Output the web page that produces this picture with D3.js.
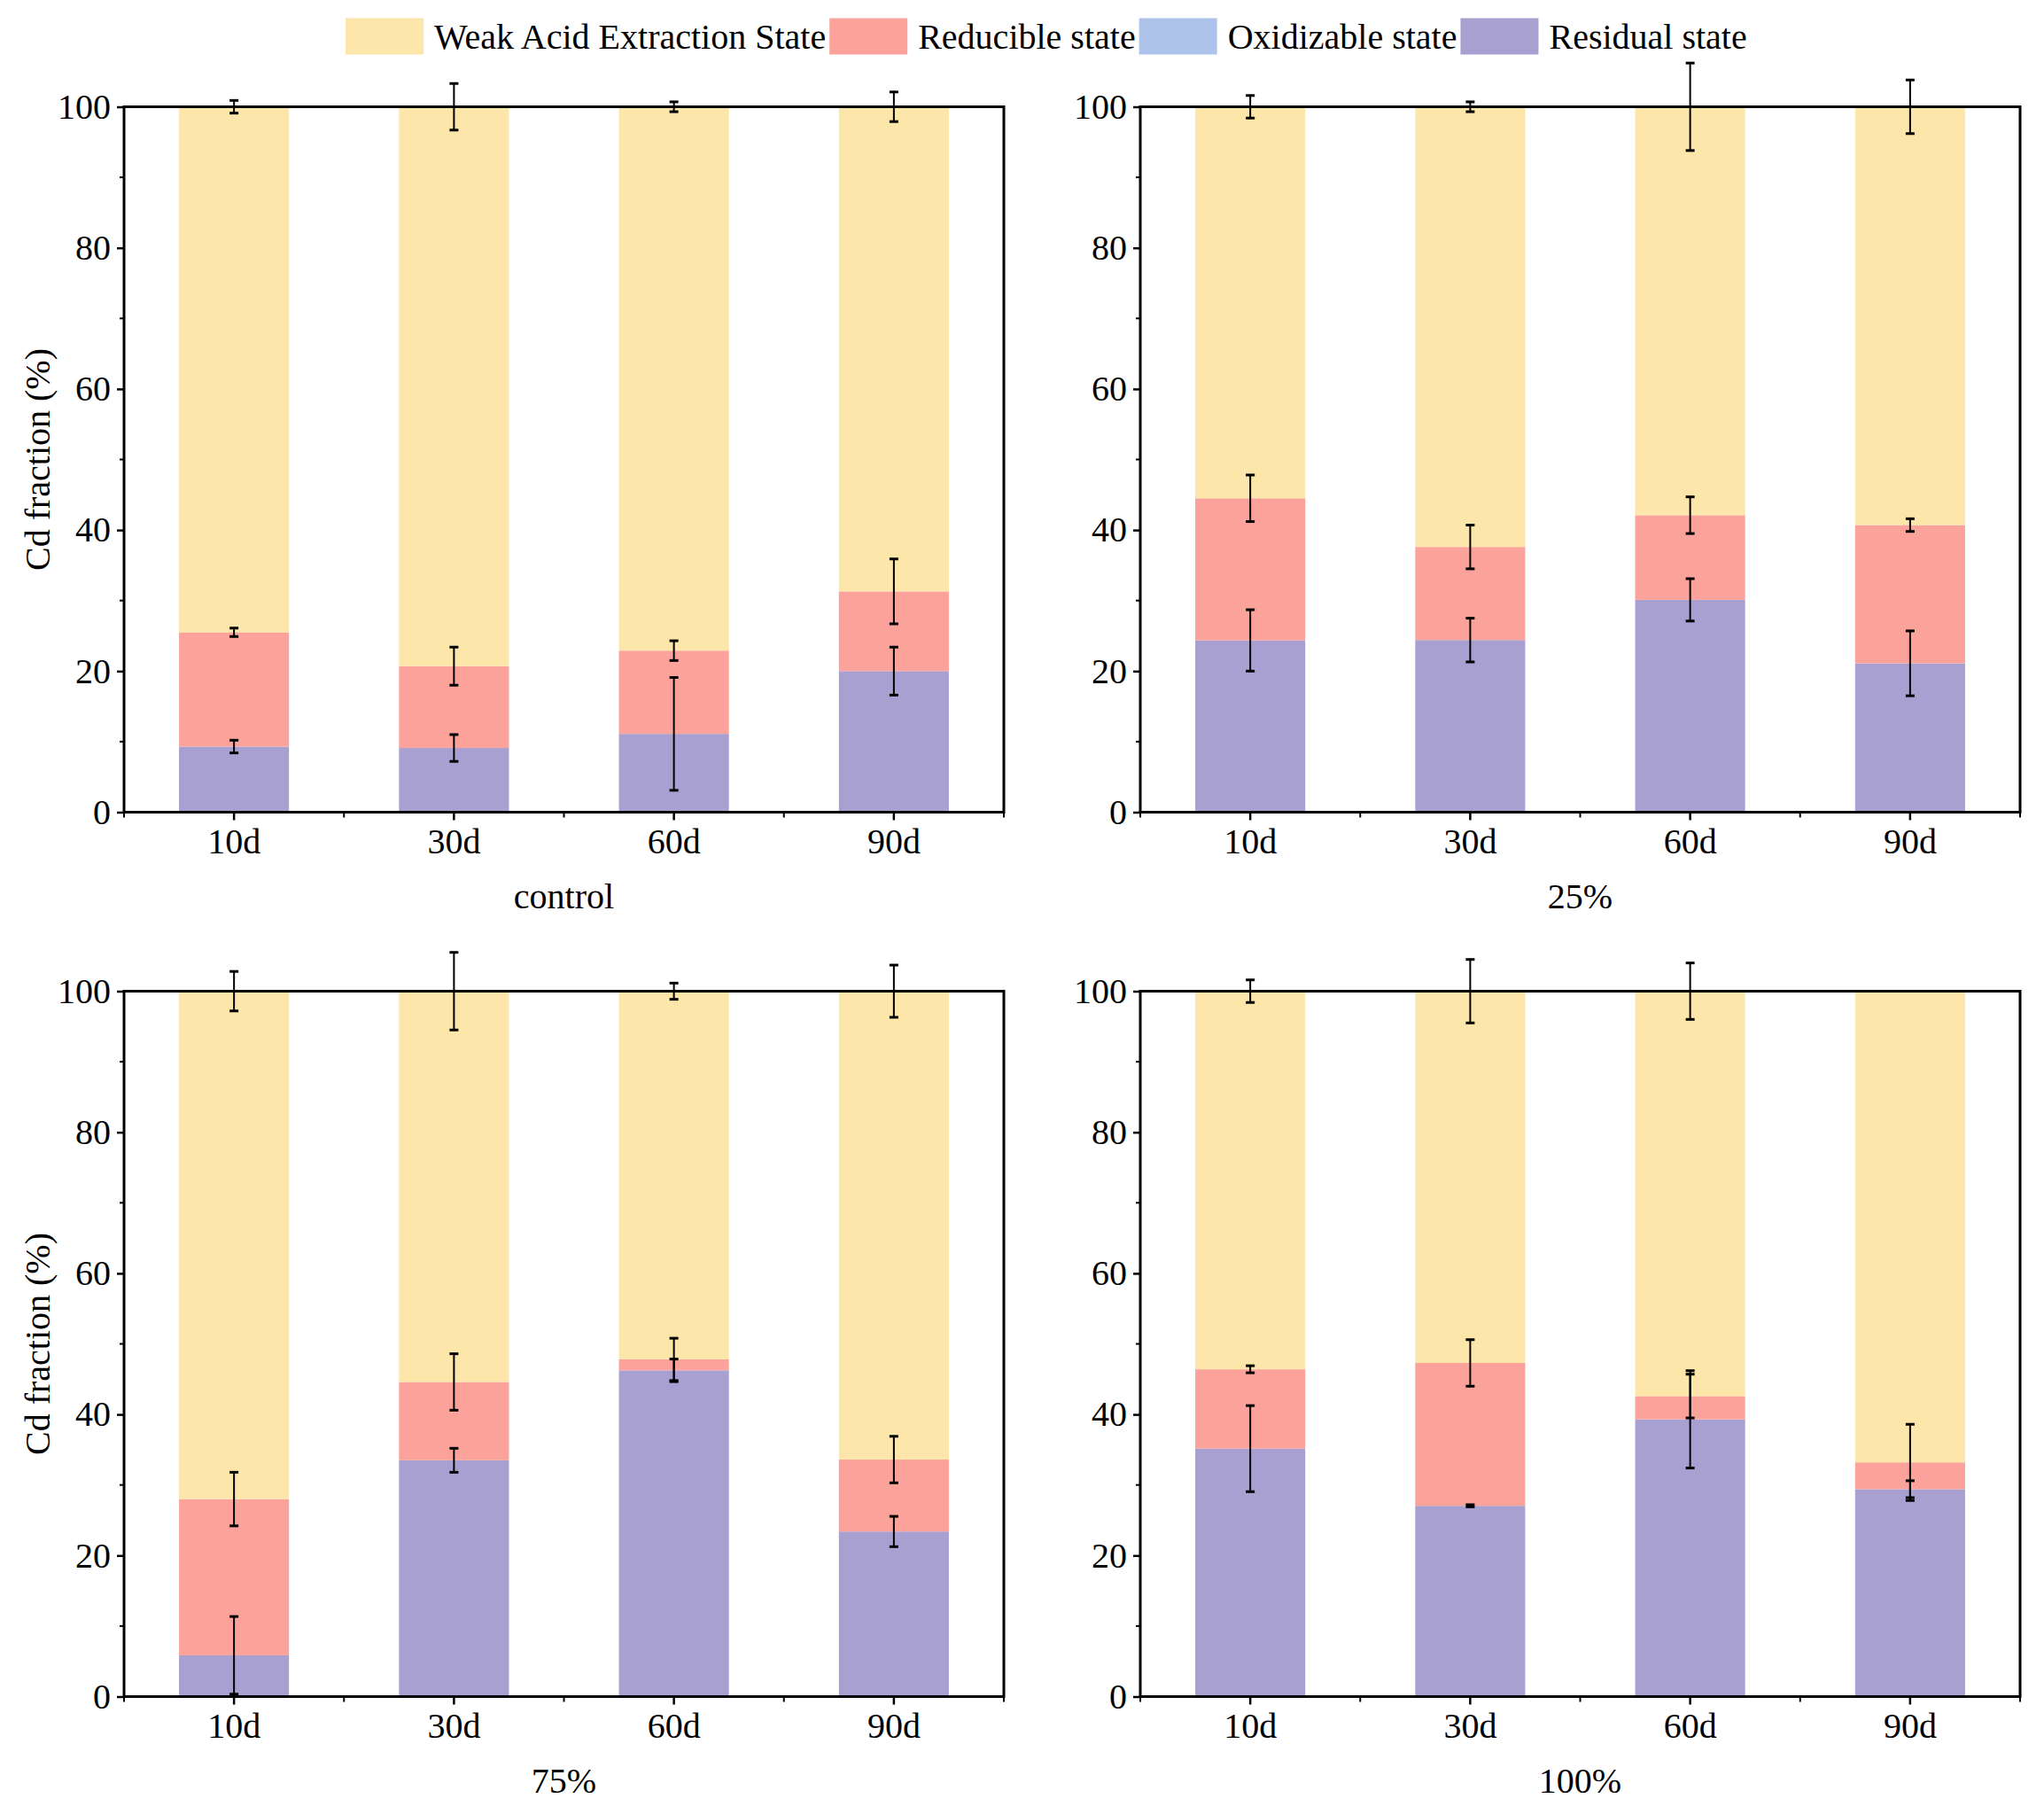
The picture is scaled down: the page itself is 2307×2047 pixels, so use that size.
<!DOCTYPE html>
<html>
<head>
<meta charset="utf-8">
<script src="https://cdn.jsdelivr.net/npm/d3@7"></script>
<style>
  body { margin: 0; background: #fff; }
  text { font-family: "Liberation Serif", "Times New Roman", serif; fill: #000; }
</style>
</head>
<body>
<div id="chart"></div>
<script>
const days = ['10d', '30d', '60d', '90d'];
const seriesNames = ['Weak Acid Extraction State', 'Reducible state', 'Oxidizable state', 'Residual state'];
const seriesColors = ['#fde6a9', '#fba39b', '#adc3e9', '#a8a0d1'];
const yTicks = [0, 20, 40, 60, 80, 100];
const yMinorTicks = [10, 30, 50, 70, 90];
const panelNames = ['control', '25%', '75%', '100%'];

// segment heights (%) stacked from the bottom: residual, oxidizable, reducible, weak acid
const controlResidual = [9.3, 9.1, 11.1, 20.0];
const controlOxidizable = [0, 0, 0, 0];
const controlReducible = [16.2, 11.6, 11.8, 11.3];
const controlWeakAcid = [74.5, 79.3, 77.1, 68.7];
const controlResidualErr = [0.9, 1.9, 8.0, 3.4];
const controlReducibleErr = [0.6, 2.7, 1.4, 4.6];
const controlWeakAcidErr = [0.9, 3.3, 0.7, 2.1];

const p25Residual = [24.35, 24.4, 30.1, 21.1];
const p25Oxidizable = [0, 0, 0, 0];
const p25Reducible = [20.15, 13.2, 12.0, 19.6];
const p25WeakAcid = [55.5, 62.4, 57.9, 59.3];
const p25ResidualErr = [4.35, 3.1, 3.0, 4.6];
const p25ReducibleErr = [3.3, 3.1, 2.6, 0.9];
const p25WeakAcidErr = [1.6, 0.7, 6.2, 3.8];

const p75Residual = [5.85, 33.5, 46.25, 23.4];
const p75Oxidizable = [0, 0, 0, 0];
const p75Reducible = [22.15, 11.1, 1.55, 10.2];
const p75WeakAcid = [72.0, 55.4, 52.2, 66.4];
const p75ResidualErr = [5.5, 1.7, 1.6, 2.15];
const p75ReducibleErr = [3.8, 4.0, 3.0, 3.3];
const p75WeakAcidErr = [2.8, 5.5, 1.15, 3.7];

const p100Residual = [35.15, 27.05, 39.3, 29.4];
const p100Oxidizable = [0, 0, 0, 0];
const p100Reducible = [11.25, 20.25, 3.3, 3.8];
const p100WeakAcid = [53.6, 52.7, 57.4, 66.8];
const p100ResidualErr = [6.1, 0.15, 6.9, 1.2];
const p100ReducibleErr = [0.5, 3.3, 3.1, 5.4];
const p100WeakAcidErr = [1.6, 4.5, 4.0, 0];

let width = 2307, height = 2047;

const svg = d3.select('#chart')
  .append('svg')
  .attr('width', width)
  .attr('height', height)
  .style('background', '#fff');

const panels = [
  { name: panelNames[0], left: 140, top: 120.5, res: controlResidual, ox: controlOxidizable, red: controlReducible, weak: controlWeakAcid,
    errs: [controlResidualErr, null, controlReducibleErr, controlWeakAcidErr], yTitle: true },
  { name: panelNames[1], left: 1287, top: 120.5, res: p25Residual, ox: p25Oxidizable, red: p25Reducible, weak: p25WeakAcid,
    errs: [p25ResidualErr, null, p25ReducibleErr, p25WeakAcidErr], yTitle: false },
  { name: panelNames[2], left: 140, top: 1118.5, res: p75Residual, ox: p75Oxidizable, red: p75Reducible, weak: p75WeakAcid,
    errs: [p75ResidualErr, null, p75ReducibleErr, p75WeakAcidErr], yTitle: true },
  { name: panelNames[3], left: 1287, top: 1118.5, res: p100Residual, ox: p100Oxidizable, red: p100Reducible, weak: p100WeakAcid,
    errs: [p100ResidualErr, null, p100ReducibleErr, p100WeakAcidErr], yTitle: false }
];
const panelW = 993, panelH = 796;

// stack keys bottom -> top, colours follow legend order
const stackKeys = ['res', 'ox', 'red', 'weak'];
const keyColor = { res: seriesColors[3], ox: seriesColors[2], red: seriesColors[1], weak: seriesColors[0] };

panels.forEach((p) => {
  const g = svg.append('g');
  const x = d3.scaleBand()
    .domain(days)
    .range([p.left, p.left + panelW])
    .paddingInner(0.5)
    .paddingOuter(0.25);
  const y = d3.scaleLinear()
    .domain([0, 100])
    .range([p.top + panelH, p.top]);

  const rows = days.map((d, i) => ({ day: d, res: p.res[i], ox: p.ox[i], red: p.red[i], weak: p.weak[i] }));
  const stacked = d3.stack().keys(stackKeys)(rows);

  stacked.forEach((layer) => {
    g.append('g')
      .selectAll('rect')
      .data(layer)
      .enter()
      .append('rect')
      .attr('x', (d) => x(d.data.day))
      .attr('y', (d) => y(d[1]))
      .attr('width', x.bandwidth())
      .attr('height', (d) => y(d[0]) - y(d[1]))
      .attr('fill', keyColor[layer.key]);
  });

  // frame
  g.append('rect')
    .attr('x', p.left)
    .attr('y', p.top)
    .attr('width', panelW)
    .attr('height', panelH)
    .attr('fill', 'none')
    .attr('stroke', '#000')
    .attr('stroke-width', 3);

  // error bars at the top of each segment
  stacked.forEach((layer, li) => {
    const err = p.errs[li];
    if (!err) return;
    const eg = g.append('g').attr('stroke', '#000');
    layer.forEach((d, i) => {
      if (err[i] <= 0) return;
      const cx = x(d.data.day) + x.bandwidth() / 2;
      const y1 = y(d[1] + err[i]), y2 = y(d[1] - err[i]);
      eg.append('line').attr('x1', cx).attr('x2', cx).attr('y1', y1).attr('y2', y2).attr('stroke-width', 2);
      [y1, y2].forEach((yy) => {
        eg.append('line').attr('x1', cx - 5).attr('x2', cx + 5).attr('y1', yy).attr('y2', yy).attr('stroke-width', 3);
      });
    });
  });

  // x axis
  const xAxis = d3.axisBottom(x).tickSize(9).tickSizeOuter(0).tickPadding(9);
  const xg = g.append('g')
    .attr('transform', `translate(0,${p.top + panelH})`)
    .call(xAxis);
  xg.select('.domain').remove();
  xg.selectAll('line').attr('stroke-width', 2.5);
  xg.selectAll('text').attr('font-size', 40);
  xg.selectAll('.minor')
    .data(d3.range(0, days.length + 1))
    .enter()
    .append('line')
    .attr('class', 'minor')
    .attr('x1', (d) => p.left + d * x.step())
    .attr('x2', (d) => p.left + d * x.step())
    .attr('y1', 0)
    .attr('y2', 6)
    .attr('stroke', '#000')
    .attr('stroke-width', 2);

  // y axis
  const yAxis = d3.axisLeft(y).tickValues(yTicks).tickSize(8).tickPadding(7);
  const yg = g.append('g')
    .attr('transform', `translate(${p.left},0)`)
    .call(yAxis);
  yg.select('.domain').remove();
  yg.selectAll('line').attr('stroke-width', 2.5);
  yg.selectAll('text').attr('font-size', 40);
  yg.selectAll('.minor')
    .data(yMinorTicks)
    .enter()
    .append('line')
    .attr('class', 'minor')
    .attr('x1', -5)
    .attr('x2', 0)
    .attr('y1', (d) => y(d))
    .attr('y2', (d) => y(d))
    .attr('stroke', '#000')
    .attr('stroke-width', 2);

  g.append('text')
    .attr('x', p.left + panelW / 2)
    .attr('y', p.top + panelH + 108)
    .attr('text-anchor', 'middle')
    .attr('font-size', 40)
    .text(p.name);

  if (p.yTitle) {
    g.append('text')
      .attr('transform', `translate(56,${p.top + panelH / 2}) rotate(-90)`)
      .attr('text-anchor', 'middle')
      .attr('font-size', 40)
      .text('Cd fraction (%)');
  }
});

// legend across the top
const legend = svg.append('g');
let lx = 390;
seriesNames.forEach((name, i) => {
  legend.append('rect')
    .attr('x', lx)
    .attr('y', 20.5)
    .attr('width', 88)
    .attr('height', 41)
    .attr('fill', seriesColors[i]);
  const t = legend.append('text')
    .attr('x', lx + 100)
    .attr('y', 55)
    .attr('font-size', 40)
    .text(name);
  lx = lx + 100 + t.node().getComputedTextLength() + 4;
});
</script>
</body>
</html>
